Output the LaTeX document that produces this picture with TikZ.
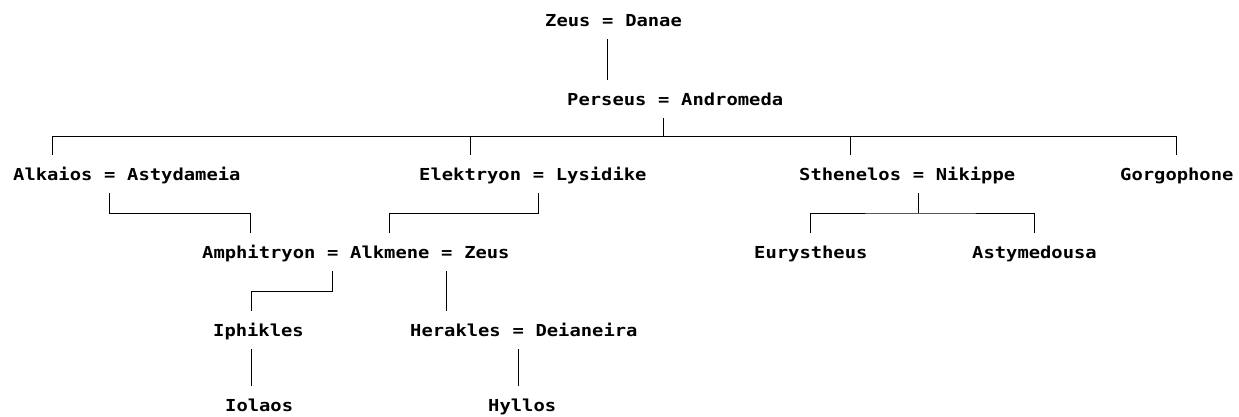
\documentclass[tikz,border=0pt]{standalone}
\usepackage{fontspec}
\newfontfamily\treefont{DejaVu Sans Mono}[FakeStretch=1.14]
\usetikzlibrary{calc}
% advance of one character of the tree font
\def\cw{11.32pt}
% place a node one blank to the right of another node on the same baseline
\newcommand\besides[3]{\node[nm] (#2) at ([xshift=\cw]#1.base east) {#3};}
\begin{document}
\begin{tikzpicture}[x=1pt,y=-1pt,
  nm/.style={font=\treefont\fontsize{16.5}{18}\selectfont\bfseries,
    inner xsep=0pt, inner ysep=13pt, text height=12pt, text depth=0pt,
    anchor=base west},
  link/.style={line width=1pt}]
\useasboundingbox (0,0) rectangle (1239,416);

% generation 0
\node[nm] (zeusA) at (545,26) {Zeus};
\besides{zeusA}{eqZ}{=}
\besides{eqZ}{danae}{Danae}

% generation 1
\node[nm] (perseus) at (567,105) {Perseus};
\besides{perseus}{eqP}{=}
\besides{eqP}{androm}{Andromeda}

% generation 2
\node[nm] (alkaios) at (13,180) {Alkaios};
\besides{alkaios}{eqA}{=}
\besides{eqA}{astyd}{Astydameia}
\node[nm] (elek) at (419,180) {Elektryon};
\besides{elek}{eqE}{=}
\besides{eqE}{lysid}{Lysidike}
\node[nm] (sthen) at (799,180) {Sthenelos};
\besides{sthen}{eqS}{=}
\besides{eqS}{nikip}{Nikippe}
\node[nm] (gorg) at (1120,180) {Gorgophone};

% generation 3
\node[nm] (amph) at (202,258) {Amphitryon};
\besides{amph}{eqAm}{=}
\besides{eqAm}{alkm}{Alkmene}
\besides{alkm}{eqZB}{=}
\besides{eqZB}{zeusB}{Zeus}
\node[nm] (eury) at (754,258) {Eurystheus};
\node[nm] (asty) at (972,258) {Astymedousa};

% generation 4
\node[nm] (iph) at (213,336) {Iphikles};
\node[nm] (herak) at (410,336) {Herakles};
\besides{herak}{eqH}{=}
\besides{eqH}{deian}{Deianeira}

% generation 5
\node[nm] (iol) at (225,411) {Iolaos};
\node[nm] (hyll) at (488,411) {Hyllos};

% descent lines
\draw[link] (eqZ.south) -- (eqZ.south |- perseus.north);

\coordinate (bar) at ($(eqP.south)!.5!(eqP.south |- alkaios.north)$);
\draw[link] (eqP.south) -- (bar);
\draw[link] (alkaios.north) -- (alkaios.north |- bar) -- (gorg.north |- bar) -- (gorg.north);
\draw[link] (elek.north) -- (elek.north |- bar);
\draw[link] (sthen.north) -- (sthen.north |- bar);

\draw[link] (eqA.south) -- ($(eqA.south)!.5!(eqA.south |- amph.north)$) -| ([xshift=-8pt]amph.north);
\draw[link] (eqE.south) -- ($(eqE.south)!.5!(eqE.south |- alkm.north)$) -| (alkm.north);

\coordinate (sm) at ($(eqS.south)!.5!(eqS.south |- eury.north)$);
\draw[link] (eqS.south) -- (sm);
\draw[link] (eury.north) |- (sm) -| (asty.north);

\draw[link] (eqAm.south) -- ($(eqAm.south)!.5!(eqAm.south |- iph.north)$) -| ([xshift=-7pt]iph.north);
\draw[link] (eqZB.south) -- (eqZB.south |- herak.north);

\draw[link] ([xshift=-7pt]iph.south) -- ([xshift=-7pt]iph.south |- iol.north);
\draw[link] (eqH.south) -- (eqH.south |- hyll.north);
\end{tikzpicture}
\end{document}
